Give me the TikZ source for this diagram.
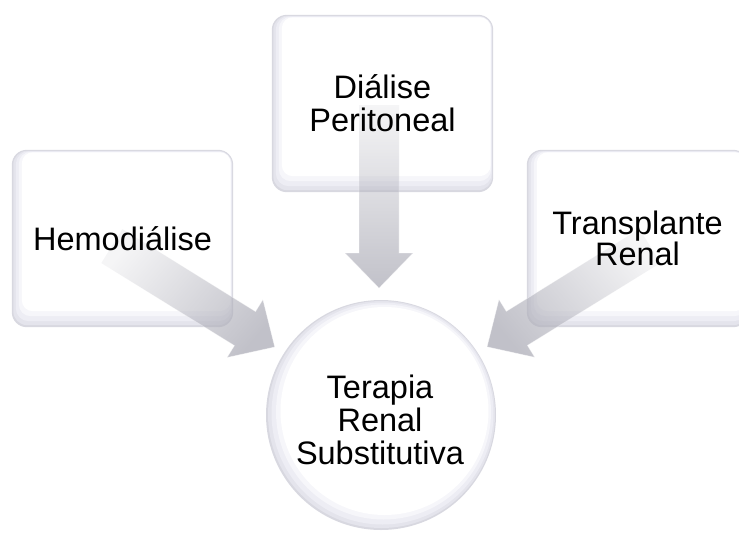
\documentclass[tikz,border=0pt]{standalone}
\usepackage{fontspec}
\setmainfont{Liberation Sans}
\usetikzlibrary{calc,fadings}
\pgfdeclarelayer{bg}\pgfdeclarelayer{fg}
\pgfsetlayers{bg,main,fg}
\definecolor{bev0}{RGB}{216,216,224}
\definecolor{bev1}{RGB}{228,228,236}
\definecolor{bev2}{RGB}{237,237,244}
\definecolor{bev3}{RGB}{246,246,250}
\definecolor{arrowgray}{RGB}{176,176,186}
\tikzfading[name=arrowfade, left color=transparent!88, right color=transparent!22]
\tikzset{
  lbl/.style={font=\fontsize{32.5}{33}\selectfont, align=center, text=black, inner sep=0pt},
  panel/.style={lbl, rectangle, minimum width=221pt, minimum height=177pt},
  hub/.style={circle, minimum size=230pt, inner sep=0pt},
  convfill/.style={fill=arrowgray, draw=white, draw opacity=0.6, line width=0.6pt}
}
\newcommand\bevelpanel[1]{%
  \fill[bev0, rounded corners=15pt] (#1.south west) rectangle (#1.north east);
  \fill[bev1, rounded corners=14pt] ([xshift=1.5pt,yshift=2pt]#1.south west) rectangle ([xshift=-1pt,yshift=-1pt]#1.north east);
  \fill[bev2, rounded corners=13pt] ([xshift=4pt,yshift=6pt]#1.south west) rectangle ([xshift=-1.5pt,yshift=-1.5pt]#1.north east);
  \fill[bev3, rounded corners=12pt] ([xshift=7pt,yshift=11pt]#1.south west) rectangle ([xshift=-2pt,yshift=-2pt]#1.north east);
  \fill[white, rounded corners=11pt] ([xshift=10pt,yshift=16pt]#1.south west) rectangle ([xshift=-2.5pt,yshift=-2.5pt]#1.north east);
}
\newcommand\convarrow[3]{%
  \coordinate (#1b) at ($(#2)!35pt!(#1)$);
  \fill[convfill, path fading=arrowfade, fading angle=#3]
    ($(#1)!20pt!90:(#2)$) -- ($(#1b)!20pt!90:(#2)$) -- ($(#1b)!34pt!90:(#2)$) -- (#2)
    -- ($(#1b)!34pt!-90:(#2)$) -- ($(#1b)!20pt!-90:(#2)$) -- ($(#1)!20pt!-90:(#2)$) -- cycle;
}
\begin{document}
\begin{tikzpicture}[x=1pt,y=-1pt]
\useasboundingbox (0,0) rectangle (739,533);
\begin{pgfonlayer}{fg}
  \node[panel] (hemo) at (122.5,238.5) {Hemodiálise};
  \node[panel] (dp) at (382.5,103.5) {Diálise\\Peritoneal};
  \node[panel, font=\fontsize{32.5}{29.5}\selectfont] (tx) at (637.5,238.5) {Transplante\\Renal};
  \node[hub] (trs) at (381,415) {};
  \node[lbl] (trslbl) at (380,419.5) {Terapia\\Renal\\Substitutiva};
\end{pgfonlayer}
\begin{pgfonlayer}{bg}
  \bevelpanel{hemo}
  \bevelpanel{dp}
  \bevelpanel{tx}
  \fill[bev0] (trs.center) circle (115pt);
  \fill[bev1] ([xshift=0.5pt,yshift=0.5pt]trs.center) circle (113.5pt);
  \fill[bev2] ([xshift=1.5pt,yshift=1.5pt]trs.center) circle (111pt);
  \fill[bev3] ([xshift=2.5pt,yshift=3pt]trs.center) circle (107.5pt);
  \fill[white] ([xshift=3.5pt,yshift=4pt]trs.center) circle (104pt);
\end{pgfonlayer}
\coordinate (ta) at (112,246);
\coordinate (ha) at (275,347);
\coordinate (tb) at (379,105);
\coordinate (hb) at (379,288);
\coordinate (tc) at (650,246);
\coordinate (hc) at (487,347);
\convarrow{ta}{ha}{-31.8}
\convarrow{tb}{hb}{-90}
\convarrow{tc}{hc}{211.8}
\end{tikzpicture}
\end{document}
